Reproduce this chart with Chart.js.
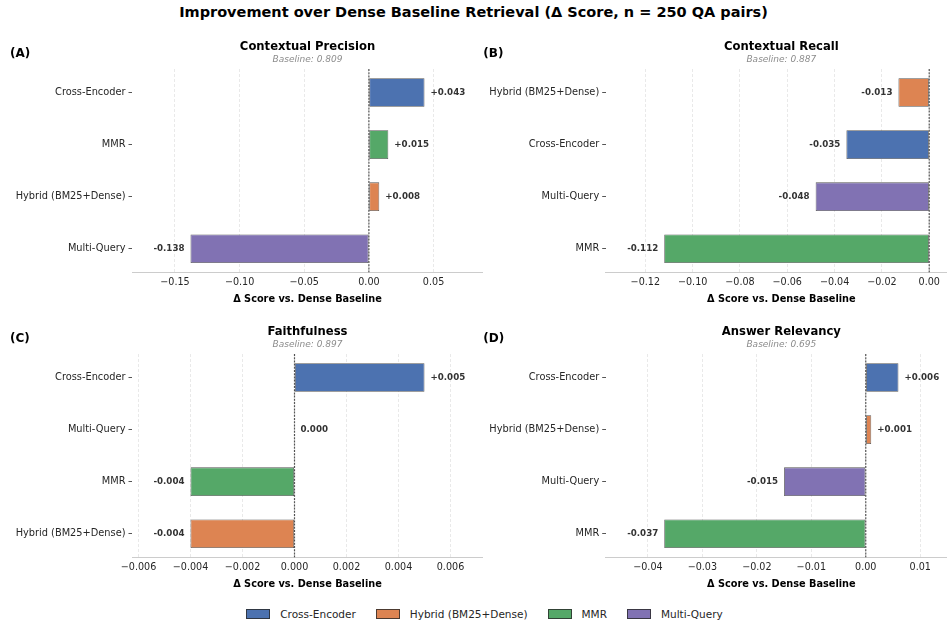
<!DOCTYPE html>
<html>
<head>
<meta charset="utf-8">
<script src="https://cdn.jsdelivr.net/npm/chart.js@4.4.1/dist/chart.umd.min.js"></script>
<style>
  html, body { margin: 0; padding: 0; background: #fff; overflow: hidden; }
  body { width: 947px; height: 624px; position: relative; font-family: 'DejaVu Sans', sans-serif; }
  #title { position: absolute; left: 0; top: 3px; width: 947px; text-align: center; font-weight: bold; font-size: 14.5px; line-height: 18px; color: #000; }
  canvas { position: absolute; }
  #legend { position: absolute; left: 11px; top: 606px; width: 947px; height: 16px; display: flex; justify-content: center; align-items: center; font-size: 10.5px; color: #262626; }
  .item { display: flex; align-items: center; margin: 0 10px; }
  .swatch { width: 22px; height: 8px; border: 0.8px solid rgba(40, 40, 40, 0.8); margin-right: 10px; }
</style>
</head>
<body>
<div id="title">Improvement over Dense Baseline Retrieval (Δ Score, n = 250 QA pairs)</div>
<canvas id="panel-a" width="483" height="310" style="left:0px;top:0px"></canvas>
<canvas id="panel-b" width="477" height="310" style="left:480px;top:0px"></canvas>
<canvas id="panel-c" width="483" height="310" style="left:0px;top:285px"></canvas>
<canvas id="panel-d" width="477" height="310" style="left:480px;top:285px"></canvas>
<div id="legend"></div>
<script>
/* data */
const legendMethods = ['Cross-Encoder', 'Hybrid (BM25+Dense)', 'MMR', 'Multi-Query'];
const legendColors = ['#4C72B0', '#DD8452', '#55A868', '#8172B3'];

const precisionMethods = ['Cross-Encoder', 'MMR', 'Hybrid (BM25+Dense)', 'Multi-Query'];
const precisionDelta = [0.043, 0.015, 0.008, -0.138];
const precisionTicks = [-0.15, -0.10, -0.05, 0.00, 0.05];
const precisionBaseline = 0.809;

const recallMethods = ['Hybrid (BM25+Dense)', 'Cross-Encoder', 'Multi-Query', 'MMR'];
const recallDelta = [-0.013, -0.035, -0.048, -0.112];
const recallTicks = [-0.12, -0.10, -0.08, -0.06, -0.04, -0.02, 0.00];
const recallBaseline = 0.887;

const faithfulnessMethods = ['Cross-Encoder', 'Multi-Query', 'MMR', 'Hybrid (BM25+Dense)'];
const faithfulnessDelta = [0.005, 0.000, -0.004, -0.004];
const faithfulnessTicks = [-0.006, -0.004, -0.002, 0.000, 0.002, 0.004, 0.006];
const faithfulnessBaseline = 0.897;

const relevancyMethods = ['Cross-Encoder', 'Hybrid (BM25+Dense)', 'Multi-Query', 'MMR'];
const relevancyDelta = [0.006, 0.001, -0.015, -0.037];
const relevancyTicks = [-0.04, -0.03, -0.02, -0.01, 0.00, 0.01];
const relevancyBaseline = 0.695;

/* constants */
const FONT = "'DejaVu Sans', sans-serif";
const TEXT_COLOR = '#262626';

/* utilities */
const colorFor = (method) => legendColors[legendMethods.indexOf(method)];

const formatDelta = (value) => {
  if (value > 0) return '+' + value.toFixed(3);
  if (value === 0) return '0.000';
  return value.toFixed(3);
};

const formatTick = (value, decimals) => {
  const text = Math.abs(value).toFixed(decimals);
  return value < 0 ? '\u2212' + text : text;
};

const axisLimits = (values) => {
  const min = Math.min(...values);
  const max = Math.max(...values);
  const pad = (max - min) * 0.25;
  return [min - pad, max + pad];
};

/* plugins */
const zeroLinePlugin = {
  id: 'zeroLine',
  beforeDatasetsDraw: (chart) => {
    const { ctx, chartArea } = chart;
    const x = chart.scales.x.getPixelForValue(0);
    ctx.save();
    ctx.strokeStyle = 'rgba(0, 0, 0, 0.65)';
    ctx.lineWidth = 1.2;
    ctx.setLineDash([2, 1.2]);
    ctx.beginPath();
    ctx.moveTo(x, chartArea.top);
    ctx.lineTo(x, chartArea.bottom);
    ctx.stroke();
    ctx.restore();
  },
};

const valueLabelPlugin = {
  id: 'valueLabels',
  afterDatasetsDraw: (chart) => {
    const { ctx } = chart;
    const values = chart.data.datasets[0].data;
    ctx.save();
    ctx.font = 'bold 8.7px ' + FONT;
    ctx.fillStyle = '#333';
    ctx.textBaseline = 'middle';
    chart.getDatasetMeta(0).data.forEach((bar, i) => {
      const value = values[i].x;
      if (value < 0) {
        ctx.textAlign = 'right';
        ctx.fillText(formatDelta(value), bar.x - 6, bar.y);
      } else {
        ctx.textAlign = 'left';
        ctx.fillText(formatDelta(value), bar.x + 6, bar.y);
      }
    });
    ctx.restore();
  },
};

const panelTextPlugin = {
  id: 'panelText',
  afterDraw: (chart, args, options) => {
    const { ctx, chartArea } = chart;
    const centerX = (chartArea.left + chartArea.right) / 2;
    ctx.save();
    ctx.textBaseline = 'middle';
    ctx.textAlign = 'center';
    ctx.fillStyle = '#000';
    ctx.font = 'bold 11.6px ' + FONT;
    ctx.fillText(options.title, centerX, chartArea.top - 22);
    ctx.fillStyle = '#8c8c8c';
    ctx.font = 'italic 9px ' + FONT;
    ctx.fillText('Baseline: ' + options.baseline.toFixed(3), centerX, chartArea.top - 9.5);
    ctx.textAlign = 'left';
    ctx.fillStyle = '#000';
    ctx.font = 'bold 12px ' + FONT;
    ctx.fillText(options.letter, options.letterX, chartArea.top - 14.7);
    ctx.restore();
  },
};

/* charts */
const createPanel = (selector, panel) => {
  const element = document.querySelector(selector);
  const [min, max] = axisLimits(panel.values);

  return new Chart(element, {
    type: 'bar',
    data: {
      datasets: [{
        data: panel.values.map((value, i) => ({ x: value, y: i })),
        backgroundColor: panel.methods.map(colorFor),
        borderColor: 'rgba(40, 40, 40, 0.8)',
        borderWidth: 0.8,
        borderSkipped: false,
        barPercentage: 0.55,
        categoryPercentage: 1.0,
      }],
    },
    options: {
      indexAxis: 'y',
      responsive: false,
      animation: false,
      layout: { padding: { top: 69, right: 0, bottom: 0, left: 0 } },
      scales: {
        x: {
          type: 'linear',
          min: min,
          max: max,
          afterBuildTicks: (scale) => {
            scale.ticks = panel.ticks.map((value) => ({ value: value }));
          },
          afterFit: (scale) => {
            scale.height = 37.7;
          },
          ticks: {
            padding: 4,
            color: TEXT_COLOR,
            font: { family: FONT, size: 9.6 },
            callback: (value) => formatTick(value, panel.decimals),
          },
          grid: {
            color: '#e3e3e3',
            lineWidth: 0.8,
            drawTicks: false,
          },
          border: { display: true, color: '#cccccc', width: 1, dash: [3, 2] },
          title: {
            display: true,
            text: 'Δ Score vs. Dense Baseline',
            color: '#000',
            font: { family: FONT, size: 9.75, weight: 'bold' },
            padding: { top: 0, bottom: 4.7 },
          },
        },
        y: {
          type: 'linear',
          reverse: true,
          offset: false,
          min: -0.4525,
          max: 3.4525,
          afterBuildTicks: (scale) => {
            scale.ticks = panel.methods.map((method, i) => ({ value: i }));
          },
          afterFit: (scale) => {
            scale.width = panel.axisLeft;
          },
          ticks: {
            padding: 3,
            color: TEXT_COLOR,
            font: { family: FONT, size: 9.8 },
            callback: (value) => panel.methods[value],
          },
          grid: {
            offset: false,
            drawOnChartArea: false,
            drawTicks: true,
            tickLength: 3.5,
            tickColor: '#555',
          },
          border: { display: false },
        },
      },
      plugins: {
        legend: { display: false },
        tooltip: { enabled: false },
        panelText: {
          title: panel.title,
          baseline: panel.baseline,
          letter: panel.letter,
          letterX: panel.letterX,
        },
      },
    },
    plugins: [zeroLinePlugin, valueLabelPlugin, panelTextPlugin],
  });
};

const buildLegend = () => {
  const container = document.querySelector('#legend');
  legendMethods.forEach((method, i) => {
    const item = document.createElement('div');
    item.className = 'item';
    const swatch = document.createElement('span');
    swatch.className = 'swatch';
    swatch.style.background = legendColors[i];
    const label = document.createElement('span');
    label.textContent = method;
    item.appendChild(swatch);
    item.appendChild(label);
    container.appendChild(item);
  });
};

createPanel('#panel-a', {
  title: 'Contextual Precision', letter: '(A)', letterX: 10, axisLeft: 132, decimals: 2,
  methods: precisionMethods, values: precisionDelta, ticks: precisionTicks, baseline: precisionBaseline,
});
createPanel('#panel-b', {
  title: 'Contextual Recall', letter: '(B)', letterX: 3.3, axisLeft: 125.7, decimals: 2,
  methods: recallMethods, values: recallDelta, ticks: recallTicks, baseline: recallBaseline,
});
createPanel('#panel-c', {
  title: 'Faithfulness', letter: '(C)', letterX: 10, axisLeft: 132, decimals: 3,
  methods: faithfulnessMethods, values: faithfulnessDelta, ticks: faithfulnessTicks, baseline: faithfulnessBaseline,
});
createPanel('#panel-d', {
  title: 'Answer Relevancy', letter: '(D)', letterX: 3.3, axisLeft: 125.7, decimals: 2,
  methods: relevancyMethods, values: relevancyDelta, ticks: relevancyTicks, baseline: relevancyBaseline,
});
buildLegend();
</script>
</body>
</html>
